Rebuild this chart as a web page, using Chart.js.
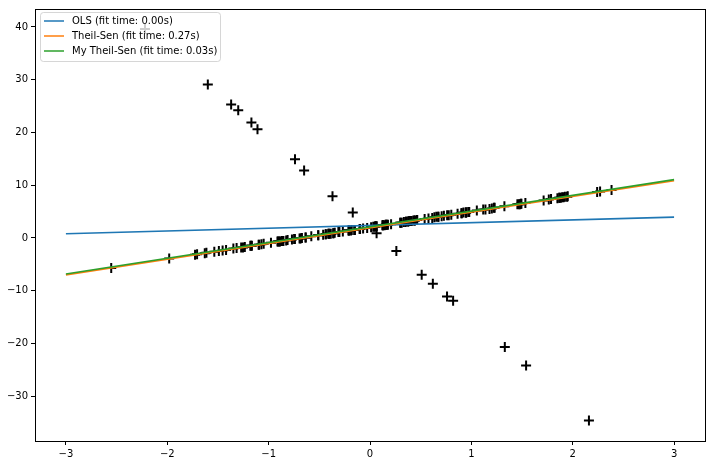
<!DOCTYPE html>
<html>
<head>
<meta charset="utf-8">
<script src="https://cdn.jsdelivr.net/npm/chart.js@4/dist/chart.umd.min.js"></script>
<style>
  html, body { margin: 0; padding: 0; background: #fff; }
  #wrap { width: 712px; height: 466px; }
</style>
</head>
<body>
<div id="wrap"><canvas id="fitChart" width="712" height="466"></canvas></div>
<script>
// inlier samples (x, y)
const inlierX = [1.764, 0.400, 0.979, 2.241, 1.868, -0.977, 0.950, -0.151, -0.103, 0.411,
    0.144, 1.454, 0.761, 0.122, 0.444, 0.334, 1.494, -0.205, 0.313, -0.854,
    -2.553, 0.654, 0.864, -0.742, 2.270, -1.454, 0.046, -0.187, 1.533, 1.469,
    0.155, 0.378, -0.888, -1.981, -0.348, 0.156, 1.230, 1.202, -0.387, -0.302,
    -1.049, -1.420, -1.706, 1.951, -0.510, -0.438, -1.253, 0.777, -1.614, -0.213,
    -0.896, 0.387, -0.511, -1.181, -0.028, 0.428, 0.067, 0.302, -0.634, -0.363,
    -0.673, -0.360, -0.813, -1.726, 0.177, -0.402, -1.630, 0.463, -0.907, 0.052,
    0.729, 0.129, 1.139, -1.235, 0.402, -0.685, -0.871, -0.579, -0.312, 0.056,
    -1.165, 0.901, 0.466, -1.536, 1.488, 1.896, 1.179, -0.180, -1.071, 1.054,
    -0.403, 1.222, 0.208, 0.977, 0.356, 0.707, 0.011, 1.786, 0.127, 0.402,
    1.883, -1.348, -1.271, 0.969, -1.173, 1.944, -0.413, -0.747, 1.923, 1.481,
    1.868, 0.906, -0.861, 1.910, -0.268, 0.802, 0.947, -0.155, 0.614, 0.922,
    0.376, -1.099, 0.298, 1.326, -0.695, -0.150, -0.435, 1.849, 0.672, 0.407,
    -0.770, 0.539, -0.674, 0.032, -0.636, 0.676, 0.577, -0.208, 0.396, -1.093,
    -1.491, 0.439, 0.167, 0.635, 2.383, 0.944, -0.913, 1.117, -1.316, -0.462,
    -0.068, 1.713, -0.745, -0.827, -0.098, 0.350];
const inlierY = [7.3, 3.2, 4.9, 8.7, 7.6, -0.9, 4.8, 1.5, 1.7, 3.2,
    2.4, 6.4, 4.3, 2.4, 3.3, 3.0, 6.5, 1.4, 2.9, -0.6,
    -5.7, 4.0, 4.6, -0.2, 8.8, -2.4, 2.1, 1.4, 6.6, 6.4,
    2.5, 3.1, -0.7, -3.9, 1.0, 2.5, 5.7, 5.6, 0.8, 1.1,
    -1.1, -2.3, -3.1, 7.9, 0.5, 0.7, -1.8, 4.3, -2.8, 1.4,
    -0.7, 3.2, 0.5, -1.5, 1.9, 3.3, 2.2, 2.9, 0.1, 0.9,
    0.0, 0.9, -0.4, -3.2, 2.5, 0.8, -2.9, 3.4, -0.7, 2.2,
    4.2, 2.4, 5.4, -1.7, 3.2, -0.1, -0.6, 0.3, 1.1, 2.2,
    -1.5, 4.7, 3.4, -2.6, 6.5, 7.7, 5.5, 1.5, -1.2, 5.2,
    0.8, 5.7, 2.6, 4.9, 3.1, 4.1, 2.0, 7.4, 2.4, 3.2,
    7.6, -2.0, -1.8, 4.9, -1.5, 7.8, 0.8, -0.2, 7.8, 6.4,
    7.6, 4.7, -0.6, 7.7, 1.2, 4.4, 4.8, 1.5, 3.8, 4.8,
    3.1, -1.3, 2.9, 6.0, -0.1, 1.5, 0.7, 7.5, 4.0, 3.2,
    -0.3, 3.6, 0.0, 2.1, 0.1, 4.0, 3.7, 1.4, 3.2, -1.3,
    -2.5, 3.3, 2.5, 3.9, 9.1, 4.8, -0.7, 5.4, -1.9, 0.6,
    1.8, 7.1, -0.2, -0.5, 1.7, 3.0];

// outlier samples
const outlierX = [-2.22, -1.60, -1.37, -1.30, -1.17, -1.11, -0.74, -0.65, -0.37, -0.17,
    0.065, 0.26, 0.51, 0.62, 0.76, 0.82, 1.33, 1.54, 2.16];
const outlierY = [39.6, 29.1, 25.3, 24.2, 21.9, 20.6, 14.9, 12.8, 7.9, 4.8,
    0.9, -2.5, -7.0, -8.7, -11.1, -11.9, -20.7, -24.2, -34.6];

// fitted lines, evaluated at the two ends
const lineX = [-3, 3];
const olsY = [0.78, 3.95];
const theilSenY = [-7.0, 10.85];
const myTheilSenY = [-6.85, 11.05];

const seriesNames = ['OLS (fit time: 0.00s)', 'Theil-Sen (fit time: 0.27s)', 'My Theil-Sen (fit time: 0.03s)'];
const seriesColors = ['#1f77b4', '#ff7f0e', '#2ca02c'];

const xTicks = [-3, -2, -1, 0, 1, 2, 3];
const yTicks = [-30, -20, -10, 0, 10, 20, 30, 40];

function toPoints(xs, ys) {
    return xs.map((x, i) => ({ x: x, y: ys[i] }));
}

// spines and legend box, drawn like matplotlib
const framePlugin = {
    id: 'frame',
    afterDraw(chart) {
        const ctx = chart.ctx;
        const a = chart.chartArea;
        ctx.save();
        ctx.strokeStyle = '#000';
        ctx.lineWidth = 1;
        ctx.strokeRect(Math.round(a.left) + 0.5, Math.round(a.top) + 0.5,
            Math.round(a.right - a.left), Math.round(a.bottom - a.top));

        // legend
        const bx = 40.5, by = 12.5, bw = 180, bh = 49;
        ctx.beginPath();
        ctx.roundRect(bx, by, bw, bh, 3);
        ctx.fillStyle = 'rgba(255,255,255,0.8)';
        ctx.fill();
        ctx.strokeStyle = 'rgba(204,204,204,0.8)';
        ctx.stroke();
        ctx.font = '10px "DejaVu Sans"';
        ctx.textBaseline = 'middle';
        const rows = [21, 36, 51];
        seriesNames.forEach((name, i) => {
            ctx.strokeStyle = seriesColors[i];
            ctx.lineWidth = 1.5;
            ctx.beginPath();
            ctx.moveTo(44, rows[i]);
            ctx.lineTo(64, rows[i]);
            ctx.stroke();
            ctx.fillStyle = '#000';
            ctx.fillText(name, 72, rows[i]);
        });
        ctx.restore();
    }
};

const lineDataset = (label, ys, color, order) => ({
    type: 'line',
    label: label,
    data: toPoints(lineX, ys),
    borderColor: color,
    backgroundColor: color,
    borderWidth: 1.6,
    pointRadius: 0,
    fill: false,
    order: order
});

new Chart(document.getElementById('fitChart').getContext('2d'), {
    type: 'scatter',
    data: {
        datasets: [
            {
                label: 'samples',
                data: toPoints(inlierX, inlierY).concat(toPoints(outlierX, outlierY)),
                pointStyle: 'cross',
                pointRadius: 5,
                borderWidth: 2,
                borderColor: '#000',
                backgroundColor: '#000',
                order: 4
            },
            lineDataset(seriesNames[0], olsY, seriesColors[0], 3),
            lineDataset(seriesNames[1], theilSenY, seriesColors[1], 2),
            lineDataset(seriesNames[2], myTheilSenY, seriesColors[2], 1)
        ]
    },
    options: {
        responsive: false,
        animation: false,
        layout: { padding: { left: 0, right: 6, top: 7, bottom: 0 } },
        plugins: {
            legend: { display: false },
            tooltip: { enabled: false }
        },
        scales: {
            x: {
                type: 'linear',
                min: -3.305,
                max: 3.305,
                afterBuildTicks: axis => { axis.ticks = xTicks.map(v => ({ value: v })); },
                afterFit: axis => { axis.height = 25; },
                grid: { drawOnChartArea: false, drawTicks: true, tickLength: 4, color: '#000' },
                border: { color: '#000' },
                ticks: {
                    color: '#000',
                    padding: 3,
                    maxRotation: 0,
                    font: { family: 'DejaVu Sans', size: 10 },
                    callback: v => (v < 0 ? '\u2212' + Math.abs(v) : String(v))
                }
            },
            y: {
                type: 'linear',
                min: -38.5,
                max: 43.4,
                afterBuildTicks: axis => { axis.ticks = yTicks.map(v => ({ value: v })); },
                afterFit: axis => { axis.width = 35; },
                grid: { drawOnChartArea: false, drawTicks: true, tickLength: 4, color: '#000' },
                border: { color: '#000' },
                ticks: {
                    color: '#000',
                    padding: 3,
                    font: { family: 'DejaVu Sans', size: 10 },
                    callback: v => (v < 0 ? '\u2212' + Math.abs(v) : String(v))
                }
            }
        }
    },
    plugins: [framePlugin]
});
</script>
</body>
</html>
